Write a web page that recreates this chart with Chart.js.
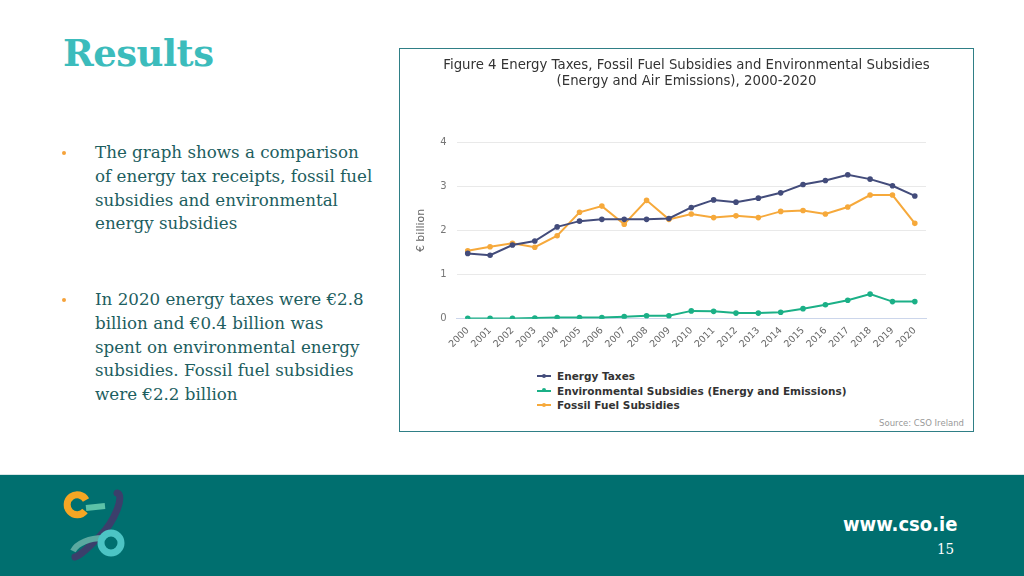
<!DOCTYPE html>
<html>
<head>
<meta charset="utf-8">
<script src="https://cdn.jsdelivr.net/npm/chart.js@4.4.0/dist/chart.umd.min.js"></script>
<style>
  body { margin:0; width:1024px; height:576px; overflow:hidden; background:#fff; position:relative; font-family:"DejaVu Serif", serif; }
  #title { position:absolute; left:63px; top:31px; font:bold 37px "DejaVu Serif", serif; color:#3cbcbc; letter-spacing:-0.5px; }
  .bullet { position:absolute; left:95px; white-space:nowrap; font:16.7px/23.8px "DejaVu Serif", serif; color:#1d5e60; }
  .dot { position:absolute; left:62px; width:4px; height:4px; border-radius:2px; background:#f5a23a; }
  #box { position:absolute; left:399px; top:48px; width:573px; height:382px; border:1px solid #2f7f86; background:#fff; }
  #ctitle { position:absolute; left:0; top:8px; width:573px; text-align:center; font:13.3px/16px "DejaVu Sans", sans-serif; color:#333; }
  #wrap { position:absolute; left:0; top:0; width:573px; height:307px; }
  #legend { position:absolute; left:137px; top:320px; font:bold 10.5px "DejaVu Sans", sans-serif; color:#333; }
  #legend div { height:14.5px; line-height:14.5px; white-space:nowrap; }
  #legend .ln { display:inline-block; position:relative; width:14px; height:2px; vertical-align:middle; margin-right:6px; top:-1px; }
  #legend .ln i { position:absolute; left:5px; top:-1.5px; width:4px; height:4px; border-radius:2px; background:inherit; }
  #source { position:absolute; right:9px; bottom:3px; font:8.5px "DejaVu Sans", sans-serif; color:#999; }
  #footer { position:absolute; left:0; top:474px; width:1024px; height:102px; background:#006f6f; border-top:1px solid #d8e6e6; }
  #www { position:absolute; left:843px; top:37px; font:bold 20px "DejaVu Sans Condensed", "DejaVu Sans", sans-serif; color:#fff; }
  #page { position:absolute; left:937px; top:65px; font:15px "DejaVu Serif Condensed", "DejaVu Serif", serif; color:#fff; }
</style>
</head>
<body>
<div id="title">Results</div>
<div class="dot" style="top:151px"></div>
<div class="bullet" style="top:141px">The graph shows a comparison<br>of energy tax receipts, fossil fuel<br>subsidies and environmental<br>energy subsidies</div>
<div class="dot" style="top:298px"></div>
<div class="bullet" style="top:288px">In 2020 energy taxes were €2.8<br>billion and €0.4 billion was<br>spent on environmental energy<br>subsidies. Fossil fuel subsidies<br>were €2.2 billion</div>

<div id="box">
  <div id="wrap"><canvas id="myChart"></canvas></div>
  <div id="ctitle">Figure 4 Energy Taxes, Fossil Fuel Subsidies and Environmental Subsidies<br>(Energy and Air Emissions), 2000-2020</div>
  <div id="legend"></div>
  <div id="source">Source: CSO Ireland</div>
</div>

<div id="footer">
  <svg style="position:absolute;left:55px;top:6px" width="80" height="85" viewBox="0 0 80 85">
    <path d="M31 19 A10 10 0 1 0 30 30" fill="none" stroke="#f5a623" stroke-width="7"/>
    <path d="M31 27 L50 25" stroke="#5cc2a8" stroke-width="6"/>
    <path d="M62 12 C70 14 60 40 45 55 C35 65 25 75 20 76" fill="none" stroke="#3b3f6b" stroke-width="7" stroke-linecap="round"/>
    <path d="M18 70 C22 62 35 57 48 57" fill="none" stroke="#5aa9a0" stroke-width="6"/>
    <circle cx="56" cy="62" r="10" fill="none" stroke="#4cc4c4" stroke-width="7"/>
  </svg>
  <div id="www">www.cso.ie</div>
  <div id="page">15</div>
</div>

<script>
const years = ['2000','2001','2002','2003','2004','2005','2006','2007','2008','2009','2010','2011','2012','2013','2014','2015','2016','2017','2018','2019','2020'];
const energyTaxes = [1.48,1.44,1.67,1.76,2.08,2.21,2.25,2.25,2.25,2.27,2.52,2.69,2.64,2.73,2.85,3.04,3.13,3.26,3.16,3.01,2.78];
const envSubsidies = [0.01,0.01,0.01,0.02,0.03,0.03,0.03,0.05,0.07,0.07,0.18,0.17,0.13,0.13,0.15,0.23,0.32,0.42,0.56,0.39,0.39];
const fossilSubsidies = [1.54,1.63,1.71,1.62,1.88,2.41,2.55,2.14,2.68,2.25,2.37,2.29,2.33,2.29,2.43,2.45,2.37,2.53,2.80,2.80,2.16];
const yTicks = [0,1,2,3,4];

function ds(label, values, color) {
  return {
    label: label,
    data: values,
    borderColor: color,
    backgroundColor: color,
    borderWidth: 2,
    pointRadius: 1.8,
    pointHoverRadius: 1.8,
    tension: 0
  };
}

const data = {
  labels: years,
  datasets: [
    ds('Energy Taxes', energyTaxes, '#434c7b'),
    ds('Environmental Subsidies (Energy and Emissions)', envSubsidies, '#1bb087'),
    ds('Fossil Fuel Subsidies', fossilSubsidies, '#f6a93b')
  ]
};

const config = {
  type: 'line',
  data: data,
  options: {
    responsive: true,
    maintainAspectRatio: false,
    animation: false,
    layout: { padding: { left: 15, right: 47, top: 93, bottom: 0 } },
    plugins: {
      legend: { display: false },
      tooltip: { enabled: false }
    },
    scales: {
      x: {
        offset: true,
        grid: { display: false, drawTicks: false },
        border: { color: '#ccd6eb' },
        ticks: { color: '#666666', font: { family: 'DejaVu Sans', size: 9.5 }, maxRotation: 45, minRotation: 45, autoSkip: false, padding: 6 }
      },
      y: {
        min: 0,
        max: 4,
        afterBuildTicks: function(axis) { axis.ticks = yTicks.map(function(v) { return { value: v }; }); },
        grid: { color: '#e9e9e9', drawTicks: false },
        border: { display: false },
        ticks: { color: '#777777', font: { family: 'DejaVu Sans', size: 10 }, padding: 10 },
        title: { display: true, text: '€ billion', color: '#666666', font: { family: 'DejaVu Sans', size: 11 }, padding: { top: 0, bottom: 2 } }
      }
    }
  }
};

const ctx = document.getElementById('myChart');
const chart = new Chart(ctx, config);

// legend drawn as html, one per line
const legendEl = document.getElementById('legend');
chart.data.datasets.forEach(function(d) {
  const row = document.createElement('div');
  row.innerHTML = '<span class="ln" style="background:' + d.borderColor + '"><i></i></span>' + d.label;
  legendEl.appendChild(row);
});
</script>
</body>
</html>
